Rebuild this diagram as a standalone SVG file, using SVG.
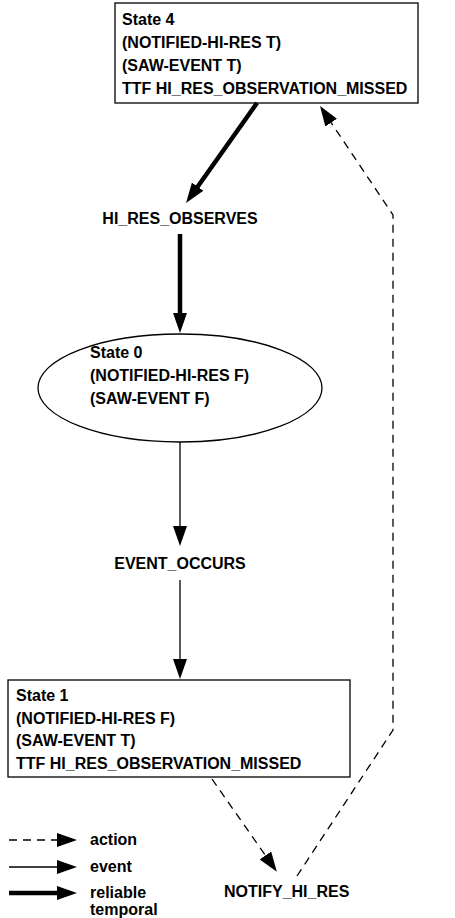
<svg xmlns="http://www.w3.org/2000/svg" width="455" height="918" viewBox="0 0 455 918">
<defs>
<style>
text{font-family:"Liberation Sans",Arial,Helvetica,sans-serif;font-weight:bold;font-size:16px;fill:#000}
.node{fill:#fff;stroke:#000;stroke-width:1.3}
.thick{stroke:#000;stroke-width:4.5;fill:none}
.thin{stroke:#000;stroke-width:1.3;fill:none}
.dash{stroke:#000;stroke-width:1.3;fill:none;stroke-dasharray:8 6}
</style>
<marker id="ah" viewBox="0 0 20 14" refX="8" refY="7" markerWidth="20" markerHeight="14" markerUnits="userSpaceOnUse" orient="auto">
<path d="M0,0 L20,7 L0,14 z" fill="#000"/>
</marker>
</defs>
<rect width="455" height="918" fill="#fff"/>
<g id="state4">
<rect class="node" x="115" y="3" width="303" height="100"/>
<text x="122" y="25">State 4</text>
<text x="122" y="48">(NOTIFIED-HI-RES T)</text>
<text x="122" y="71">(SAW-EVENT T)</text>
<text x="122" y="94">TTF HI_RES_OBSERVATION_MISSED</text>
</g>
<g id="hi_res_observes">
<text x="180" y="224" text-anchor="middle">HI_RES_OBSERVES</text>
</g>
<g id="state0">
<ellipse class="node" cx="180" cy="388" rx="142" ry="54"/>
<text x="90" y="358">State 0</text>
<text x="90" y="381">(NOTIFIED-HI-RES F)</text>
<text x="90" y="404">(SAW-EVENT F)</text>
</g>
<g id="event_occurs">
<text x="180" y="569" text-anchor="middle">EVENT_OCCURS</text>
</g>
<g id="state1">
<rect class="node" x="8" y="680" width="342" height="97"/>
<text x="16" y="701">State 1</text>
<text x="16" y="724">(NOTIFIED-HI-RES F)</text>
<text x="16" y="746">(SAW-EVENT T)</text>
<text x="16" y="769">TTF HI_RES_OBSERVATION_MISSED</text>
</g>
<g id="notify_hi_res">
<text x="224" y="897">NOTIFY_HI_RES</text>
</g>
<g id="connectors">
<line class="thick" x1="257" y1="103" x2="193" y2="193.2" marker-end="url(#ah)"/>
<line class="thick" x1="180" y1="234" x2="180" y2="321" marker-end="url(#ah)"/>
<line class="thin" x1="180" y1="442" x2="180" y2="534" marker-end="url(#ah)"/>
<line class="thin" x1="180" y1="580" x2="180" y2="667" marker-end="url(#ah)"/>
<line class="dash" x1="212" y1="779" x2="270" y2="862" marker-end="url(#ah)"/>
<polyline class="dash" points="297,876 393,730 393,215 326.7,116" marker-end="url(#ah)"/>
</g>
<g id="legend">
<line class="dash" x1="9" y1="840" x2="65" y2="840" marker-end="url(#ah)"/>
<text x="90" y="845">action</text>
<line class="thin" x1="9" y1="867" x2="65" y2="867" marker-end="url(#ah)"/>
<text x="90" y="872">event</text>
<line class="thick" x1="9" y1="893" x2="65" y2="893" marker-end="url(#ah)"/>
<text x="90" y="898">reliable</text>
<text x="90" y="915">temporal</text>
</g>
</svg>
